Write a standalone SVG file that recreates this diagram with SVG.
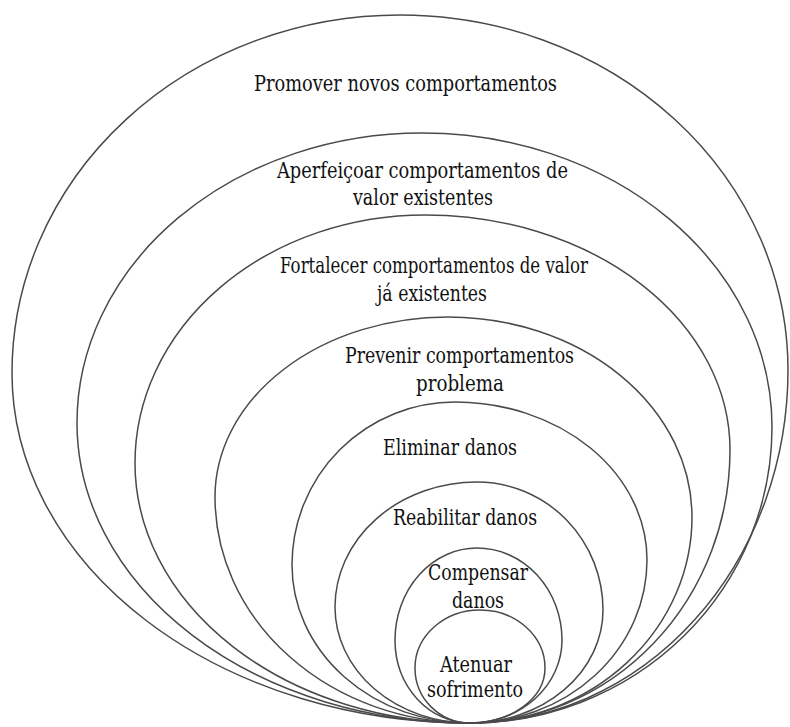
<svg xmlns="http://www.w3.org/2000/svg" width="790" height="727" viewBox="0 0 790 727">
  <style>
    .ring { fill: none; stroke: #4a4a4a; stroke-width: 1.5; }
    .lbl { font-family: 'DejaVu Serif', 'Liberation Serif', serif; font-size: 23px; fill: #111; }
  </style>
  <rect width="790" height="727" fill="#fff"/>
  <g id="node-promover">
    <path class="ring" d="M470,723 A458,350 0 0 1 12,373 A388,358 0 0 1 400,15 A388,355 0 0 1 788,370 A318,353 0 0 1 470,723 Z"/>
    <text class="lbl" x="254" y="91" textLength="303" lengthAdjust="spacingAndGlyphs">Promover novos comportamentos</text>
  </g>
  <g id="node-aperfeicoar">
    <path class="ring" d="M470,723 A393,300 0 0 1 77,423 A345,290 0 0 1 422,133 A350,294 0 0 1 772,427 A302,296 0 0 1 470,723 Z"/>
    <text class="lbl" x="277" y="178" textLength="291" lengthAdjust="spacingAndGlyphs">Aperfeiçoar comportamentos de</text>
    <text class="lbl" x="353" y="205" textLength="140" lengthAdjust="spacingAndGlyphs">valor existentes</text>
  </g>
  <g id="node-fortalecer">
    <path class="ring" d="M470,723 A335,260 0 0 1 135,463 A290,248 0 0 1 425,215 A305,235 0 0 1 730,450 A260,273 0 0 1 470,723 Z"/>
    <text class="lbl" x="280" y="273" textLength="308" lengthAdjust="spacingAndGlyphs">Fortalecer comportamentos de valor</text>
    <text class="lbl" x="377" y="301" textLength="110" lengthAdjust="spacingAndGlyphs">já existentes</text>
  </g>
  <g id="node-prevenir">
    <path class="ring" d="M470,723 A255,226 0 0 1 215,497 A233,180 0 0 1 448,317 A244,200 0 0 1 692,517 A222,206 0 0 1 470,723 Z"/>
    <text class="lbl" x="345" y="363" textLength="229" lengthAdjust="spacingAndGlyphs">Prevenir comportamentos</text>
    <text class="lbl" x="416" y="391" textLength="88" lengthAdjust="spacingAndGlyphs">problema</text>
  </g>
  <g id="node-eliminar">
    <path class="ring" d="M470,723 A178,158 0 0 1 292,565 A163,163 0 0 1 455,402 A192,158 0 0 1 647,560 A177,163 0 0 1 470,723 Z"/>
    <text class="lbl" x="383" y="455" textLength="134" lengthAdjust="spacingAndGlyphs">Eliminar danos</text>
  </g>
  <g id="node-reabilitar">
    <path class="ring" d="M470,723 A135,116 0 0 1 335,607 A142,125 0 0 1 477,482 A126,128 0 0 1 603,610 A133,113 0 0 1 470,723 Z"/>
    <text class="lbl" x="393" y="525" textLength="144" lengthAdjust="spacingAndGlyphs">Reabilitar danos</text>
  </g>
  <g id="node-compensar">
    <path class="ring" d="M470,723 A75,83 0 0 1 395,640 A82,92 0 0 1 477,548 A85,92 0 0 1 562,640 A92,83 0 0 1 470,723 Z"/>
    <text class="lbl" x="428" y="580" textLength="100" lengthAdjust="spacingAndGlyphs">Compensar</text>
    <text class="lbl" x="452" y="608" textLength="52" lengthAdjust="spacingAndGlyphs">danos</text>
  </g>
  <g id="node-atenuar">
    <path class="ring" d="M470,723 A55,55 0 0 1 415,668 A65,58 0 0 1 480,610 A65,58 0 0 1 545,668 A75,55 0 0 1 470,723 Z"/>
    <text class="lbl" x="440" y="672" textLength="72" lengthAdjust="spacingAndGlyphs">Atenuar</text>
    <text class="lbl" x="427" y="697" textLength="96" lengthAdjust="spacingAndGlyphs">sofrimento</text>
  </g>
  <g id="connectors"></g>
</svg>
